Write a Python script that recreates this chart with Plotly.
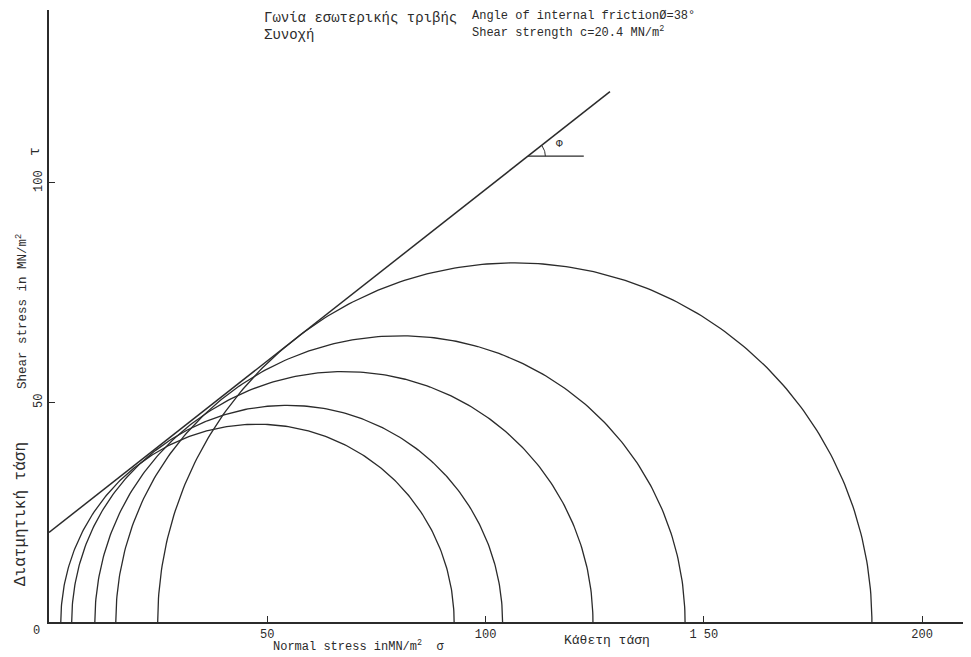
import numpy as np
import plotly.graph_objects as go

# Data (MN/m^2)
sigma3 = [2.7, 5.2, 10.5, 15.3, 24.9]      # minor principal stress (left ends of circles)
sigma1 = [92.8, 103.9, 124.6, 145.7, 188.5]  # major principal stress (right ends)
cohesion = 20.4
phi_deg = 38
envelope_sigma = [0.0, 128.5]
phi_mark_sigma = [109.7, 122.5]
x_ticks = [50, 100, 150, 200]
x_tick_text = ["50", "100", "1 50", "200"]
y_ticks = [50, 100]
y_tick_text = ["50", "100"]

INK = "#2b2b2b"
MONO = "Liberation Mono, DejaVu Sans Mono, monospace"

OFF = 8  # page body margin
W, H = 971, 657
# plot area in window pixels: x 49..971, y 10..622
L, T = 49 - OFF, 10 - OFF
R = W - (971 - OFF)
B = H - (622 - OFF)
PW, PH = W - L - R, H - T - B

fig = go.Figure()

# Mohr circles
for s3, s1 in zip(sigma3, sigma1):
    c = (s1 + s3) / 2
    r = (s1 - s3) / 2
    t = np.linspace(np.pi, 0, 241)
    fig.add_trace(go.Scatter(x=c + r * np.cos(t), y=r * np.sin(t), mode="lines",
                             line=dict(color=INK, width=1.3), hoverinfo="skip", showlegend=False))

# Failure envelope
tanphi = np.tan(np.radians(phi_deg))
ex = np.array(envelope_sigma)
fig.add_trace(go.Scatter(x=ex, y=cohesion + tanphi * ex, mode="lines",
                         line=dict(color=INK, width=1.5), hoverinfo="skip", showlegend=False))

# Angle marker
y_phi = cohesion + tanphi * phi_mark_sigma[0]
fig.add_trace(go.Scatter(x=phi_mark_sigma, y=[y_phi, y_phi], mode="lines",
                         line=dict(color=INK, width=1.3), hoverinfo="skip", showlegend=False))
a = np.linspace(0, np.radians(phi_deg), 20)
rr = 4.0
fig.add_trace(go.Scatter(x=phi_mark_sigma[0] + rr * np.cos(a), y=y_phi + rr * np.sin(a), mode="lines",
                         line=dict(color=INK, width=1), hoverinfo="skip", showlegend=False))

fig.update_layout(
    width=W, height=H,
    margin=dict(l=L, r=R, t=T, b=B, autoexpand=False),
    paper_bgcolor="white", plot_bgcolor="white",
    showlegend=False,
    font=dict(family=MONO, color=INK, size=12),
)
fig.update_xaxes(range=[0, 211.2], showgrid=False, zeroline=False, showline=True, automargin=False,
                 linecolor=INK, linewidth=1.5, ticks="inside", ticklen=6, tickcolor=INK,
                 tickvals=x_ticks, ticktext=x_tick_text, tickfont=dict(size=12, family=MONO))
fig.update_yaxes(range=[0, 139.4], showgrid=False, zeroline=False, showline=True, automargin=False,
                 linecolor=INK, linewidth=1.5, ticks="inside", ticklen=6, tickcolor=INK,
                 tickvals=y_ticks, ticktext=y_tick_text, tickangle=-90,
                 tickfont=dict(size=12, family=MONO))

# positions in window pixels
ann = [
    dict(text="0", x=36, y=631, size=12, angle=0),
    dict(text="Normal stress inMN/m<sup>2</sup>  σ", x=358, y=646, size=12, angle=0),
    dict(text="Κάθετη τάση", x=607, y=641, size=13, angle=0),
    dict(text="Shear stress in MN/m<sup>2</sup>", x=22, y=312, size=12.5, angle=-90),
    dict(text="Διατμητική τάση", x=21, y=514, size=16, angle=-90),
    dict(text="τ", x=36, y=152, size=15, angle=-90),
    dict(text="Γωνία εσωτερικής τριβής", x=262, y=18, size=14, angle=0, anchor="left"),
    dict(text="Συνοχή", x=262, y=35, size=14, angle=0, anchor="left"),
    dict(text="Angle of internal frictionØ=38°", x=470, y=16, size=12, angle=0, anchor="left"),
    dict(text="Shear strength c=20.4 MN/m<sup>2</sup>", x=470, y=32, size=12, angle=0, anchor="left"),
]
for d in ann:
    fx = d["x"] - OFF
    fy = d["y"] - OFF
    fig.add_annotation(text=d["text"], xref="paper", yref="paper",
                       x=(fx - L) / PW, y=(H - B - fy) / PH,
                       xanchor=d.get("anchor", "center"), yanchor="middle",
                       showarrow=False, textangle=d["angle"],
                       font=dict(family=MONO, size=d["size"], color=INK))

fig.add_annotation(text="Φ", x=117, y=108.9, xref="x", yref="y", showarrow=False,
                   font=dict(family=MONO, size=11, color=INK))

fig.write_html("out.html")
